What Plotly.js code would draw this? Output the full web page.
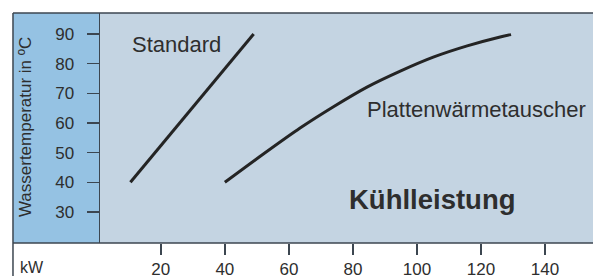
<!DOCTYPE html>
<html>
<head>
<meta charset="utf-8">
<script src="https://cdn.plot.ly/plotly-3.0.1.min.js"></script>
<style>html,body{margin:0;padding:0;background:#fff;}#chart{width:593px;height:276px;}</style>
</head>
<body>
<div id="chart"></div>
<script>
// Data
const standardX = [10.5, 49];
const standardY = [40, 90];
const plattenX = [40, 51.6, 63.5, 73.8, 84.4, 94.8, 105.1, 115.7, 126, 129.4];
const plattenY = [40, 49.2, 58.3, 65.4, 72.1, 77.5, 82.2, 86.0, 89.0, 89.8];
const xTicks = [20, 40, 60, 80, 100, 120, 140];
const yTicks = [30, 40, 50, 60, 70, 80, 90];
const seriesNames = ["Standard", "Plattenwärmetauscher"];
const xUnit = "kW";
const yTitle = "Wassertemperatur in ºC";
const chartLabel = "Kühlleistung";

const FONT = "Liberation Sans, Arial, sans-serif";
const TXT = "#2e2e2e";
const FRAME = "#3c4650";
const LINE = "#242424";

const traces = [
  {x: standardX, y: standardY, mode: "lines", line: {color: LINE, width: 3}, name: seriesNames[0], hoverinfo: "skip"},
  {x: plattenX, y: plattenY, mode: "lines", line: {color: LINE, width: 3, shape: "spline", smoothing: 0.8}, name: seriesNames[1], hoverinfo: "skip"}
];

const layout = {
  width: 593, height: 276,
  margin: {l: 100, r: 0, t: 13, b: 33, pad: 0},
  paper_bgcolor: "#ffffff",
  plot_bgcolor: "#c4d4e2",
  showlegend: false,
  font: {family: FONT, color: TXT},
  xaxis: {
    range: [1, 155], showgrid: false, zeroline: false, showline: false,
    tickvals: xTicks, ticktext: xTicks.map(String),
    ticks: "outside", ticklen: 11, tickwidth: 1.5, tickcolor: FRAME,
    tickfont: {size: 17, color: TXT, family: FONT}, fixedrange: true
  },
  yaxis: {
    range: [19.55, 97.08], showgrid: false, zeroline: false,
    showline: true, linecolor: FRAME, linewidth: 1.5,
    tickvals: yTicks, ticktext: yTicks.map(String),
    ticks: "outside", ticklen: 12, tickwidth: 1.5, tickcolor: FRAME,
    ticklabelstandoff: 9,
    tickfont: {size: 17, color: TXT, family: FONT}, fixedrange: true
  },
  shapes: [
    {type: "rect", xref: "paper", yref: "paper", x0: -0.1765, x1: 0, y0: 0, y1: 1, fillcolor: "#95c2e3", line: {width: 0}, layer: "below"},
    {type: "line", xref: "paper", yref: "paper", x0: -0.1765, x1: 1, y0: 1, y1: 1, line: {color: FRAME, width: 1.5}},
    {type: "line", xref: "paper", yref: "paper", x0: -0.1765, x1: 1, y0: 0, y1: 0, line: {color: FRAME, width: 1.5}},
    {type: "line", xref: "paper", yref: "paper", x0: -0.1765, x1: -0.1765, y0: -0.2, y1: 1, line: {color: FRAME, width: 1.5}}
  ],
  annotations: [
    {x: 24.9, y: 86.6, xref: "x", yref: "y", text: seriesNames[0], showarrow: false, xanchor: "center", yanchor: "middle", font: {size: 22, color: TXT, family: FONT}},
    {x: 118.5, y: 64.4, xref: "x", yref: "y", text: seriesNames[1], showarrow: false, xanchor: "center", yanchor: "middle", font: {size: 22, color: TXT, family: FONT}},
    {x: 104.8, y: 34.2, xref: "x", yref: "y", text: "<b>" + chartLabel + "</b>", showarrow: false, xanchor: "center", yanchor: "middle", font: {size: 27.5, color: TXT, family: FONT}},
    {x: -0.138, y: -0.108, xref: "paper", yref: "paper", text: xUnit, showarrow: false, xanchor: "center", yanchor: "middle", font: {size: 16, color: TXT, family: FONT}},
    {x: -0.151, y: 0.502, xref: "paper", yref: "paper", text: yTitle, textangle: -90, showarrow: false, xanchor: "center", yanchor: "middle", font: {size: 17, color: TXT, family: FONT}}
  ]
};

Plotly.newPlot("chart", traces, layout, {staticPlot: true, displayModeBar: false});
</script>
</body>
</html>
